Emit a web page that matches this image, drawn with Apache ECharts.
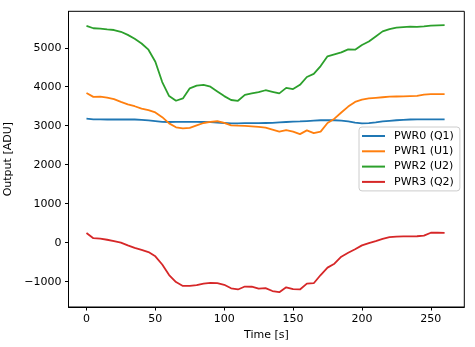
<!DOCTYPE html>
<html>
<head>
<meta charset="utf-8">
<script src="https://cdn.jsdelivr.net/npm/echarts@6/dist/echarts.min.js"></script>
<style>
  html, body { margin: 0; padding: 0; background: #fff; }
  #chart { width: 475px; height: 347px; }
</style>
</head>
<body>
<div id="chart"></div>
<script>
// Sample times [s]
const time = [0,5,10,15,20,25,30,35,40,45,50,55,60,65,70,75,80,85,90,95,100,
  105,110,115,120,125,130,135,140,145,150,155,160,165,170,175,180,185,190,195,200,
  205,210,215,220,225,230,235,240,245,250,255,260];

// Detector outputs [ADU]
const pwr0 = [3180,3165,3165,3160,3160,3160,3160,3160,3150,3135,3120,3100,3095,3100,3100,3100,3100,3095,3090,3080,3070,
  3060,3060,3065,3065,3065,3070,3075,3085,3095,3105,3110,3120,3130,3140,3145,3140,3130,3110,3080,3060,
  3065,3085,3110,3125,3140,3150,3160,3162,3162,3162,3162,3162];
const pwr1 = [3840,3740,3745,3720,3680,3610,3550,3500,3440,3400,3340,3220,3060,2960,2930,2945,3010,3070,3100,3115,3075,
  3010,3000,2995,2985,2970,2950,2900,2850,2890,2850,2785,2880,2810,2850,3070,3180,3340,3490,3610,3670,
  3700,3715,3730,3745,3750,3755,3760,3765,3800,3812,3812,3812];
const pwr2 = [5560,5500,5490,5470,5455,5410,5330,5230,5110,4950,4640,4120,3760,3640,3700,3960,4030,4050,4000,3880,3760,
  3660,3640,3790,3830,3860,3910,3870,3830,3970,3940,4050,4250,4330,4530,4780,4830,4880,4960,4950,5070,
  5160,5290,5420,5480,5515,5530,5540,5535,5550,5570,5575,5578];
const pwr3 = [250,115,103,75,40,0,-70,-135,-185,-240,-350,-560,-830,-1010,-1110,-1110,-1090,-1050,-1030,-1040,-1080,
  -1170,-1200,-1125,-1130,-1180,-1165,-1240,-1270,-1145,-1190,-1200,-1050,-1040,-830,-640,-540,-360,-260,-170,-70,
  -10,40,95,140,155,160,162,165,180,255,255,250];

const seriesNames = ['PWR0 (Q1)', 'PWR1 (U1)', 'PWR2 (U2)', 'PWR3 (Q2)'];
const seriesValues = [pwr0, pwr1, pwr2, pwr3];
const colors = ['#1f77b4', '#ff7f0e', '#2ca02c', '#d62728'];

const xTicks = [0, 50, 100, 150, 200, 250];
const yTicks = [-1000, 0, 1000, 2000, 3000, 4000, 5000];

const FONT = 'DejaVu Sans';
const chart = echarts.init(document.getElementById('chart'), null, { renderer: 'canvas' });

chart.setOption({
  animation: false,
  backgroundColor: '#fff',
  color: colors,
  grid: {
    left: 68.5, right: 10.7, top: 11.3, bottom: 40,
    outerBoundsMode: 'none',
    containLabel: false,
    show: true, borderColor: '#000', borderWidth: 1, backgroundColor: 'transparent'
  },
  legend: {
    orient: 'vertical',
    left: 359, top: 127,
    padding: [3, 6, 3, 3],
    itemGap: 3.3,
    itemWidth: 23, itemHeight: 2,
    icon: 'rect',
    backgroundColor: 'rgba(255,255,255,0.8)',
    borderColor: '#cccccc', borderWidth: 1, borderRadius: 3,
    textStyle: { fontFamily: FONT, fontSize: 11, color: '#000', lineHeight: 12, padding: [0, 0, 0, 4] },
    data: seriesNames
  },
  xAxis: {
    type: 'value', min: -13.05, max: 274.3,
    name: 'Time [s]', nameLocation: 'middle', nameGap: 21,
    nameTextStyle: { fontFamily: FONT, fontSize: 11, color: '#000' },
    axisLine: { show: true, onZero: false, lineStyle: { color: '#000', width: 1 } },
    axisTick: { show: true, length: 3.5, lineStyle: { color: '#000' }, customValues: xTicks },
    axisLabel: { fontFamily: FONT, fontSize: 11, color: '#000', margin: 7, customValues: xTicks },
    splitLine: { show: false }
  },
  yAxis: {
    type: 'value', min: -1650, max: 5935,
    name: 'Output [ADU]', nameLocation: 'middle', nameGap: 49,
    nameTextStyle: { fontFamily: FONT, fontSize: 11, color: '#000' },
    axisLine: { show: true, onZero: false, lineStyle: { color: '#000', width: 1 } },
    axisTick: { show: true, length: 3.5, lineStyle: { color: '#000' }, customValues: yTicks },
    axisLabel: { fontFamily: FONT, fontSize: 11, color: '#000', margin: 7,
      customValues: yTicks, formatter: v => (v < 0 ? '\u2212' + Math.abs(v) : String(v)) },
    splitLine: { show: false }
  },
  series: seriesNames.map((name, i) => ({
    name: name,
    type: 'line',
    showSymbol: false,
    symbol: 'none',
    lineStyle: { width: 1.8, color: colors[i] },
    itemStyle: { color: colors[i] },
    data: time.map((t, k) => [t, seriesValues[i][k]])
  }))
});
</script>
</body>
</html>
